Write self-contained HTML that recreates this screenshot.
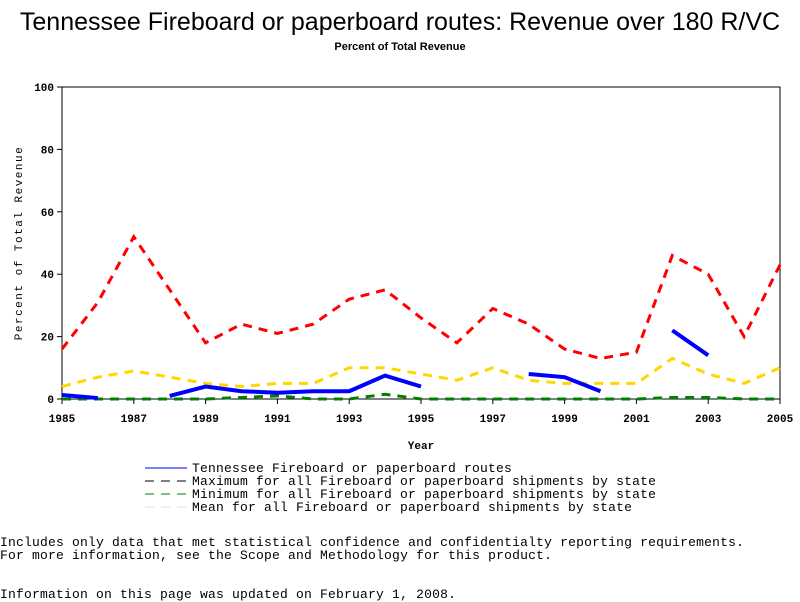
<!DOCTYPE html>
<html><head><meta charset="utf-8"><style>
body{margin:0;background:#fff;width:800px;height:600px;overflow:hidden;position:relative;font-family:"Liberation Sans",sans-serif}
.t{position:absolute;white-space:nowrap}
.m{font-family:"Liberation Mono",monospace;font-size:13px;letter-spacing:0.2px}
</style></head><body>
<div class="t" style="left:0;top:8px;width:800px;text-align:center;font-size:25px">Tennessee Fireboard or paperboard routes: Revenue over 180 R/VC</div>
<div class="t" style="left:0;top:41px;width:800px;text-align:center;font-size:11px;font-weight:bold">Percent of Total Revenue</div>
<svg id="c" width="800" height="600" style="position:absolute;left:0;top:0"></svg>
<div class="t m" style="left:0;top:535px">Includes only data that met statistical confidence and confidentialty reporting requirements.</div>
<div class="t m" style="left:0;top:548px">For more information, see the Scope and Methodology for this product.</div>
<div class="t m" style="left:0;top:587px">Information on this page was updated on February 1, 2008.</div>
<script>
const years=[1985,1986,1987,1988,1989,1990,1991,1992,1993,1994,1995,1996,1997,1998,1999,2000,2001,2002,2003,2004,2005];
const tnVals=[1.3,0.3,null,1,4,2.5,2,2.5,2.5,7.5,4,null,null,8,7,2.5,null,22,14,null,null];
const maxVals=[16,31,52,35,18,24,21,24,32,35,26,18,29,24,16,13,15,46,40,20,43];
const minVals=[0,0,0,0,0,0.5,1,0,0,1.5,0,0,0,0,0,0,0,0.5,0.5,0,0];
const meanVals=[4,7,9,7,5,4,5,5,10,10,8,6,10,6,5,5,5,13,8,5,10];
const yTicks=[0,20,40,60,80,100];
const xTicks=[1985,1987,1989,1991,1993,1995,1997,1999,2001,2003,2005];
const legendLabels=["Tennessee Fireboard or paperboard routes","Maximum for all Fireboard or paperboard shipments by state","Minimum for all Fireboard or paperboard shipments by state","Mean for all Fireboard or paperboard shipments by state"];
const L=62,R=780,T=87,B=399;
const X=v=>L+(v-1985)/(2005-1985)*(R-L);
const Y=v=>B-v/100*(B-T);
const svg=document.getElementById('c');const NS='http://www.w3.org/2000/svg';
function mk(tag,a,p){const e=document.createElementNS(NS,tag);for(const k in a)e.setAttribute(k,a[k]);(p||svg).appendChild(e);return e;}
const fr=mk('rect',{x:L,y:T,width:R-L,height:B-T,fill:'none',stroke:'#000','stroke-width':1});


yTicks.forEach(v=>{mk('line',{x1:L-5,x2:L,y1:Y(v),y2:Y(v),stroke:'#000'});
const t=mk('text',{x:L-8,y:Y(v)+4,'text-anchor':'end','font-size':11,'font-weight':'bold','font-family':'Liberation Mono, monospace'});t.textContent=v;

});
xTicks.forEach(v=>{mk('line',{x1:X(v),x2:X(v),y1:B,y2:B+5,stroke:'#000'});
const t=mk('text',{x:X(v),y:B+23,'text-anchor':'middle','font-size':11,'font-weight':'bold','font-family':'Liberation Mono, monospace'});t.textContent=v;

});
const xt=mk('text',{x:421,y:449,'text-anchor':'middle','font-size':11,'font-weight':'bold','font-family':'Liberation Mono, monospace'});xt.textContent='Year';


const yt=mk('text',{x:22,y:243,'text-anchor':'middle','font-size':11,'font-family':'Liberation Mono, monospace',transform:'rotate(-90 22 243)','letter-spacing':'1.5'});yt.textContent='Percent of Total Revenue';


const series=[[tnVals,'#0000ff',4,'none','series-tennessee'],[maxVals,'#ff0000',3,'9 7','series-maximum'],[minVals,'#008000',3,'9 7','series-minimum'],[meanVals,'#ffd700',3,'9 7','series-mean']];
const order=[1,3,2,0];
order.forEach(i=>{const [vals,col,w,da,name]=series[i];let d='';let pen=false;
vals.forEach((v,j)=>{if(v===null){pen=false;return;}d+=(pen?'L':'M')+X(years[j])+' '+Y(v)+' ';pen=true;});
const p=mk('path',{d:d,fill:'none',stroke:col,'stroke-width':w,'stroke-dasharray':da});

});
const ld=['none','9 7','9 7','9 7'];const lcol=['#0000ff','#000','#008000','#ddd'];
legendLabels.forEach((s,i)=>{const y=468+i*13;
mk('line',{x1:145,x2:187,y1:y,y2:y,stroke:lcol[i],'stroke-width':1,'stroke-dasharray':ld[i]});
const t=mk('text',{x:192,y:y+4,'font-size':13,'font-family':'Liberation Mono, monospace','letter-spacing':'0.2'});t.textContent=s;

});
</script>
</body></html>
